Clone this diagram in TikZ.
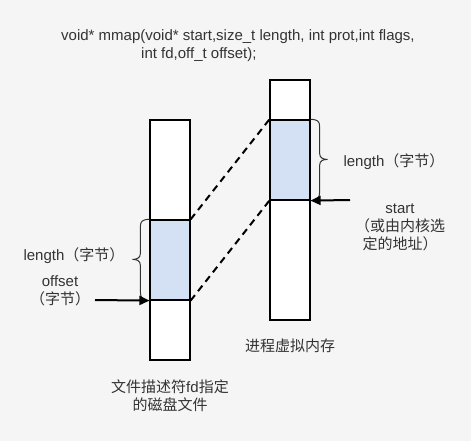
\documentclass[tikz,border=0pt]{standalone}
\usepackage{fontspec}
\setmainfont{Liberation Sans}
\newfontfamily\cjk{Noto Sans CJK SC}
\usepackage{xcolor}
\usetikzlibrary{arrows.meta}
\definecolor{bgcol}{HTML}{F5F5F5}
\definecolor{segblue}{HTML}{D4E1F5}
\definecolor{txtcol}{HTML}{333333}
\tikzset{
  col/.style={draw,fill=white,line width=1.2pt,minimum width=40pt,minimum height=240pt,inner sep=0pt},
  seg/.style={draw,fill=segblue,line width=1.2pt,minimum width=40pt,minimum height=80pt,inner sep=0pt},
  lbl/.style={text=txtcol,font=\fontsize{15}{18}\selectfont,inner sep=0pt,align=center},
  mapline/.style={line width=2pt,dash pattern=on 7pt off 5pt},
  ptr/.style={line width=2pt,-{Triangle[length=10pt,width=9pt]}},
  brc/.style={line width=1pt,black!80}
}
\begin{document}
\begin{tikzpicture}[x=1pt,y=-1pt]
\fill[bgcol] (0,0) rectangle (471,441);
\useasboundingbox (0,0) rectangle (471,441);
% prototype
\node[lbl,align=left,anchor=west] (proto) at (61,46) {void* mmap(void* start,size\_t length, int prot,int flags,\\\hspace*{80pt}int fd,off\_t offset);};
% file on disk and process memory
\node[col] (disk) at (170,240) {};
\node[seg] (diskseg) at (170,260) {};
\node[col] (mem) at (290,200) {};
\node[seg] (memseg) at (290,160) {};
\draw[mapline] (diskseg.north east) -- (memseg.north west);
\draw[mapline] (diskseg.south east) -- (memseg.south west);
% braces
\draw[brc] (diskseg.north west) .. controls +(-7,0) and +(0,-5) .. ++(-9,7) -- ++(0,27)
  .. controls +(0,5) and +(4,0) .. ++(-8,6) .. controls +(4,0) and +(0,-5) .. ++(8,6)
  -- ++(0,27) .. controls +(0,5) and +(-7,0) .. (diskseg.south west);
\draw[brc] (memseg.north east) .. controls +(7,0) and +(0,-5) .. ++(9,7) -- ++(0,27)
  .. controls +(0,5) and +(-4,0) .. ++(8,6) .. controls +(-4,0) and +(0,-5) .. ++(-8,6)
  -- ++(0,27) .. controls +(0,5) and +(7,0) .. (memseg.south east);
% pointers
\coordinate (offtail) at (95,300);
\coordinate (starttail) at (350,200);
\draw[ptr] (offtail) -- (diskseg.south west);
\draw[ptr] (starttail) -- (memseg.south east);
% labels
\node[lbl] (lenl) at (74,256) {length{\cjk（字节）}};
\node[lbl] (offl) at (60,291) {offset\\{\cjk（字节）}};
\node[lbl] (lenr) at (394,162) {length{\cjk（字节）}};
\node[lbl] (startl) at (400,227) {start\\{\cjk（或由内核选}\\{\cjk 定的地址）}};
\node[lbl] (meml) at (290,346) {\cjk 进程虚拟内存};
\node[lbl] (diskl) at (170,396) {{\cjk 文件描述符}fd{\cjk 指定}\\{\cjk 的磁盘文件}};
\end{tikzpicture}
\end{document}
